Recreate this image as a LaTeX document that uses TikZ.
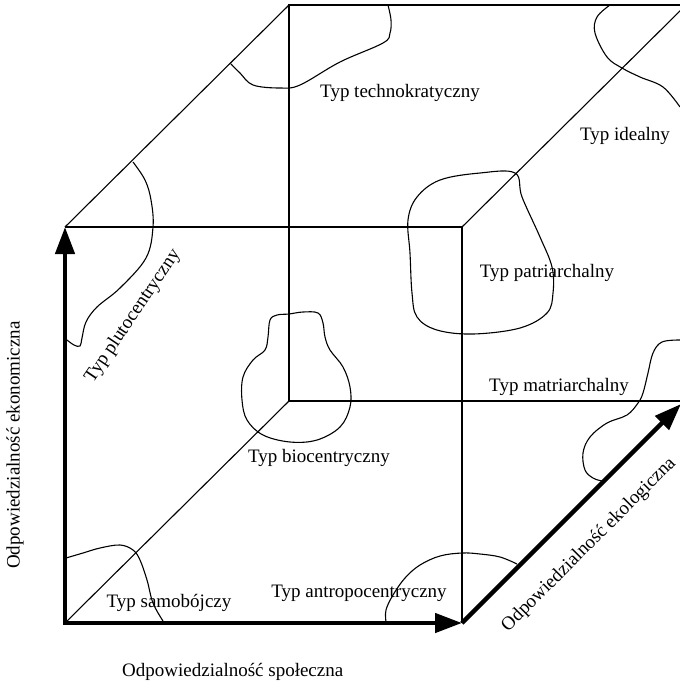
\documentclass[tikz,border=0pt]{standalone}
\usepackage{fontspec}
\setmainfont{Liberation Serif}
\usetikzlibrary{arrows.meta}
\begin{document}
\begin{tikzpicture}[x=1pt,y=-1pt,
  edge/.style={line width=1.1pt, black},
  blob/.style={line width=1.1pt, black},
  axis/.style={line width=4.5pt, black, line join=miter,
    -{Triangle[length=27pt,width=19pt]}},
  lbl/.style={font=\fontsize{19}{22}\selectfont, inner sep=0pt}]
\useasboundingbox (0,0) rectangle (680,681);
\clip (0,0) rectangle (680,681);

% cube corners: front face
\coordinate (FTL) at (65,227);
\coordinate (FTR) at (462,227);
\coordinate (FBL) at (65,623);
\coordinate (FBR) at (462,623);
% back face
\coordinate (BTL) at (289,5);
\coordinate (BTR) at (686,5);
\coordinate (BBL) at (289,401);
\coordinate (BBR) at (686,401);
\coordinate (EKtip) at (681,404);

% thin edges of the cube
\draw[edge] (FTL) -- (FTR) -- (FBR);
\draw[edge] (BTR) -- (BTL) -- (BBL) -- (BBR);
\draw[edge] (FTL) -- (BTL);
\draw[edge] (FTR) -- (BTR);
\draw[edge] (FBL) -- (BBL);

% regions of the types
\draw[blob] plot[smooth,tension=0.6] coordinates {(231,64) (240,73) (253,85) (280,88) (300,85) (340,62) (383,43) (390,33) (391,20) (388,5)};
\draw[blob] plot[smooth,tension=0.6] coordinates {(610,5) (597,17) (595,33) (607,57) (622,68) (640,77) (663,87) (680,107)};
\draw[blob] plot[smooth cycle,tension=0.6] coordinates {(515,173) (522,197) (540,237) (552,267) (553,293) (547,313) (520,328) (473,334) (437,330) (417,317) (412,293) (410,253) (408,220) (417,197) (440,180) (480,173)};
\draw[blob] plot[smooth,tension=0.6] coordinates {(133,162) (145,180) (151,200) (153,227) (146,258) (120,288) (97,307) (86,322) (82,338) (80,346) (74,345) (67,340)};
\draw[blob] plot[smooth cycle,tension=0.6] coordinates {(289,314) (303,312) (318,313) (323,323) (325,337) (330,350) (343,367) (350,387) (350,407) (340,427) (317,440) (290,442) (263,435) (247,420) (242,400) (243,377) (253,360) (265,350) (268,337) (270,320) (277,315)};
\draw[blob] plot[smooth,tension=0.6] coordinates {(680,340) (662,342) (653,353) (648,373) (643,393) (638,403) (627,415) (607,423) (590,437) (583,453) (585,470) (593,478) (602,481)};
\draw[blob] plot[smooth,tension=0.6] coordinates {(517,564) (500,557) (480,554) (462,553) (440,556) (420,565) (405,578) (393,595) (386,610) (386,622)};
\draw[blob] plot[smooth,tension=0.6] coordinates {(66,558) (83,553) (100,548) (120,545) (133,550) (140,560) (147,580) (153,603) (163,621)};

% axes
\draw[axis, {Triangle[length=27pt,width=19pt]}-{Triangle[length=27pt,width=19pt]}] (FTL) -- (FBL) -- (FBR);
\draw[axis] (FBR) -- (EKtip);

% labels
\node[lbl] (tech) at (400,93) {Typ technokratyczny};
\node[lbl] (ideal) at (625,136) {Typ idealny};
\node[lbl] (patr) at (547,273) {Typ patriarchalny};
\node[lbl] (matr) at (559,387) {Typ matriarchalny};
\node[lbl] (bio) at (319,458) {Typ biocentryczny};
\node[lbl] (samob) at (169,603) {Typ samobójczy};
\node[lbl] (antro) at (359,593) {Typ antropocentryczny};
\node[lbl, rotate=56] (pluto) at (133,316) {Typ plutocentryczny};
\node[lbl, rotate=90] (ekon) at (15,445) {Odpowiedzialność ekonomiczna};
\node[lbl, anchor=west] (spol) at (122,672) {Odpowiedzialność społeczna};
\node[lbl, rotate=45] (ekol) at (589,545) {Odpowiedzialność ekologiczna};
\end{tikzpicture}
\end{document}
